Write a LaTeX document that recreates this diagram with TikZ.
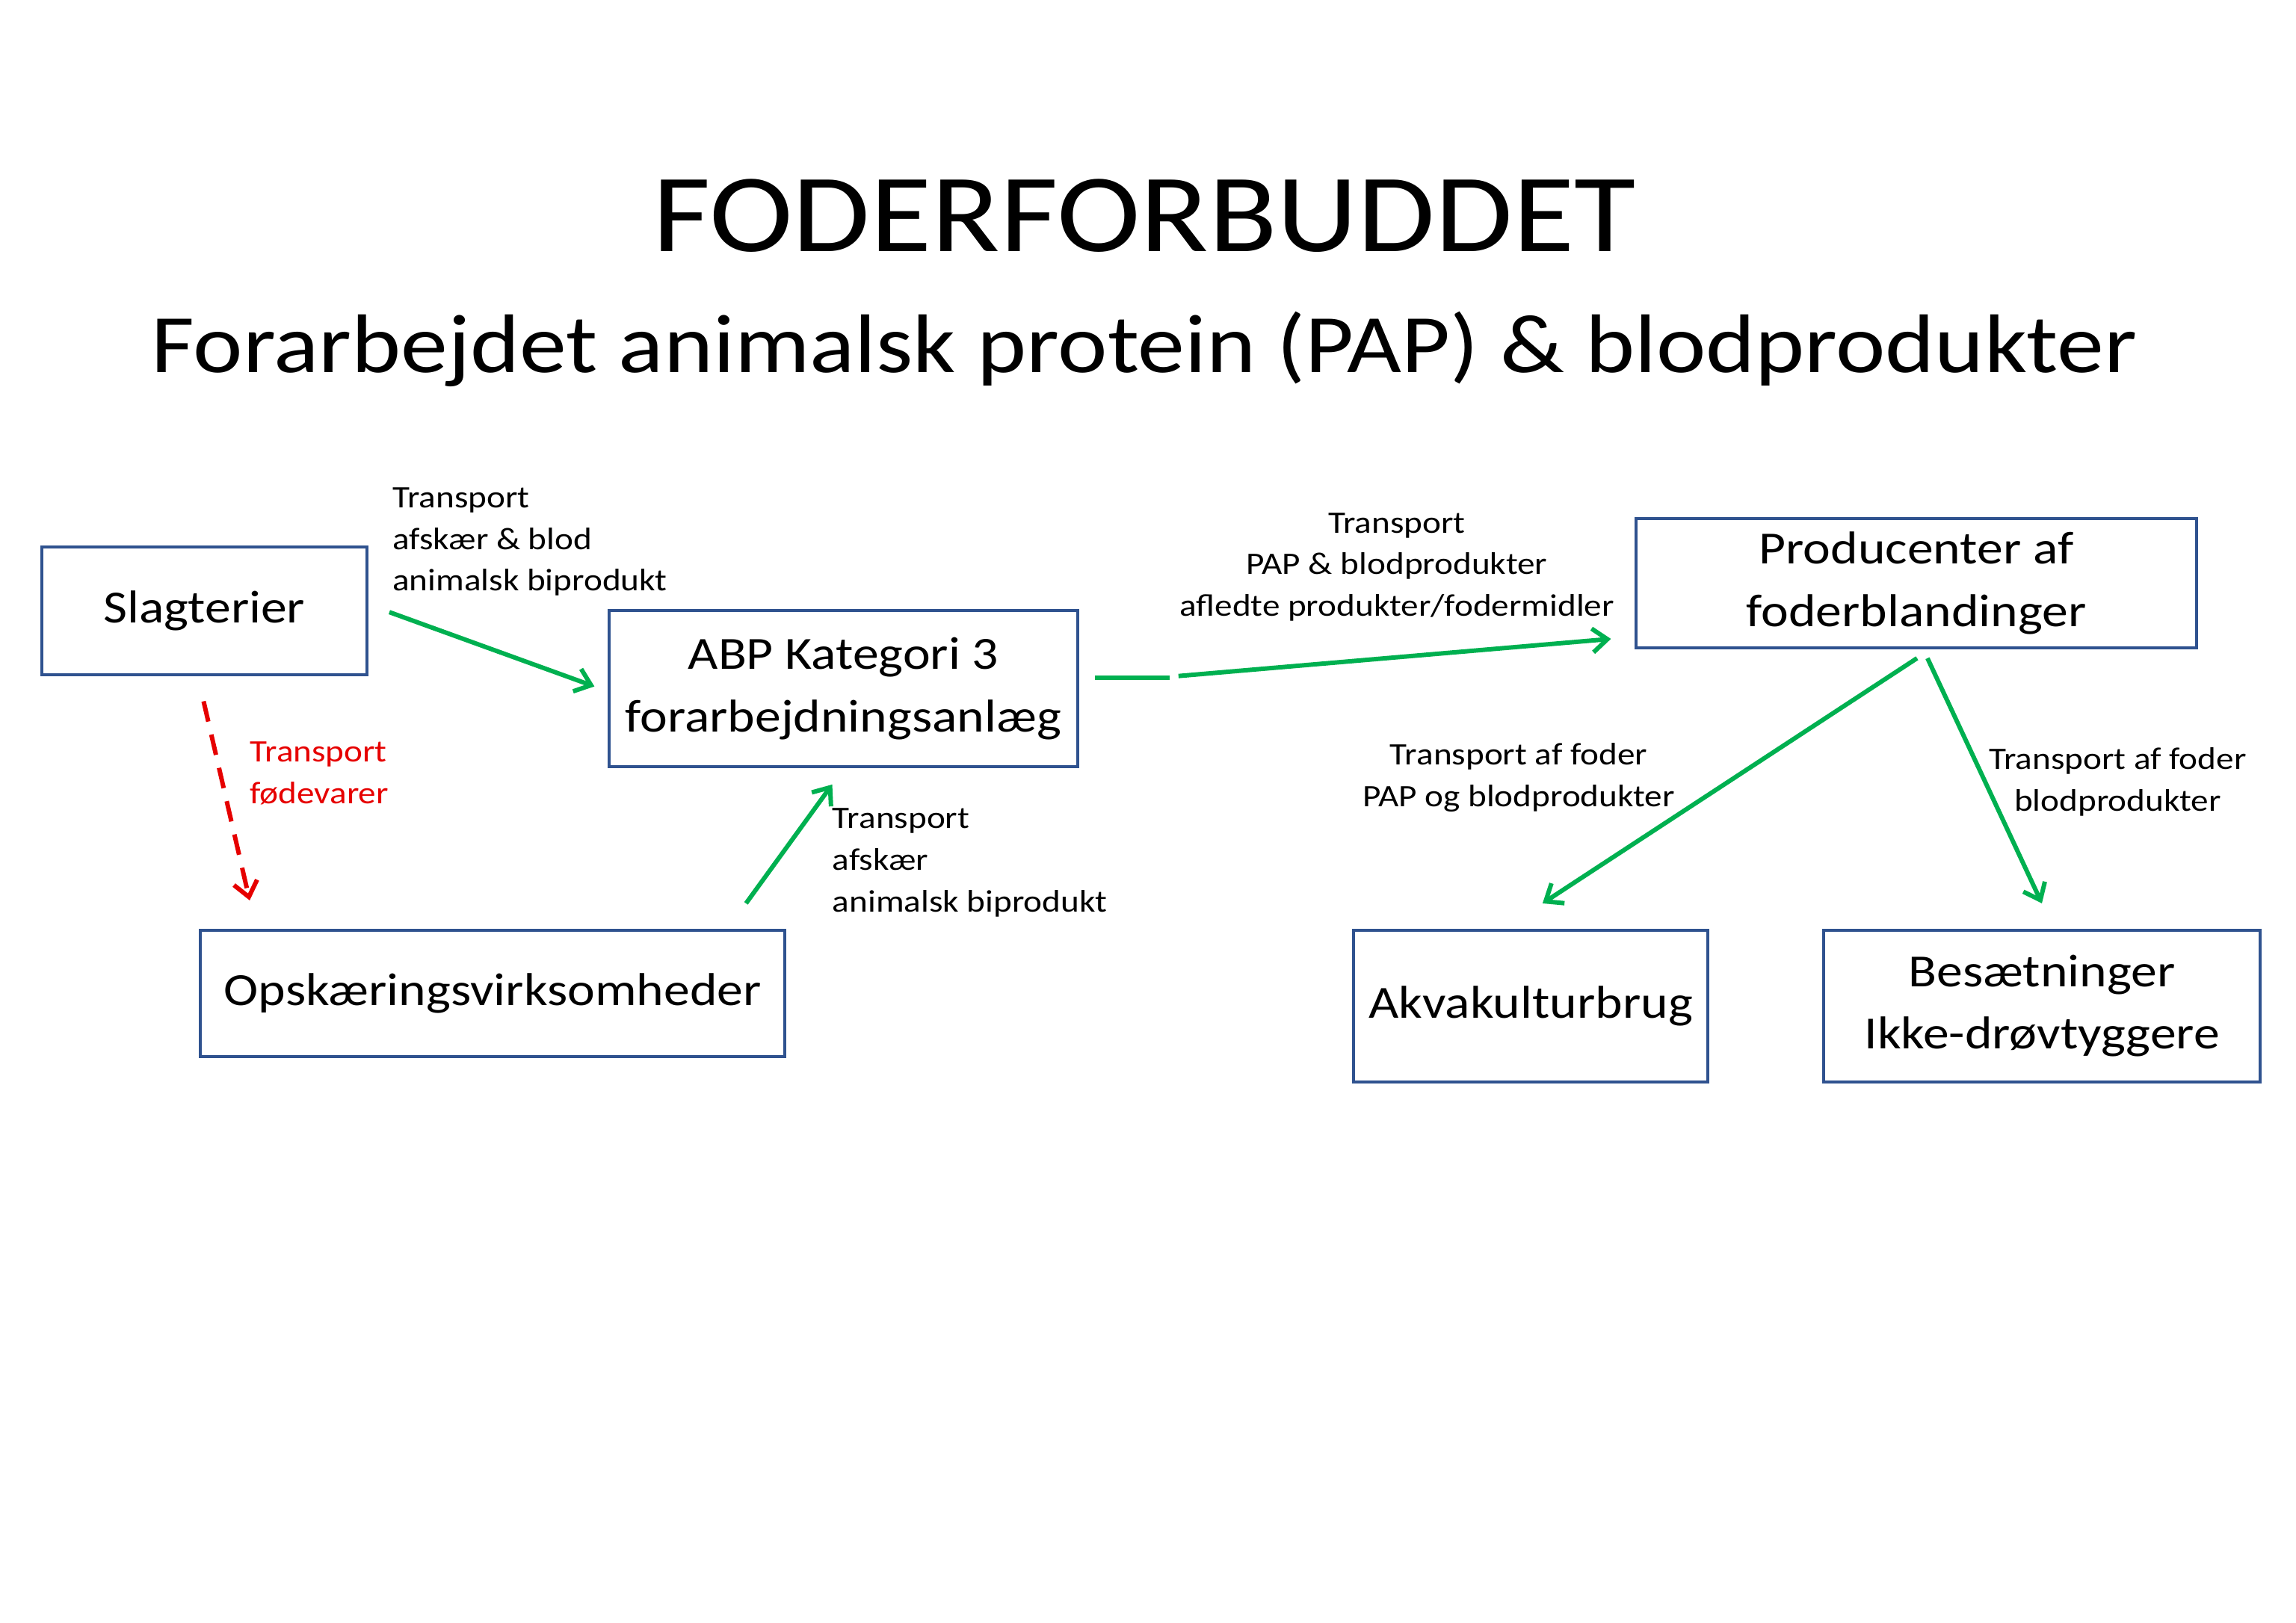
\documentclass[tikz,border=0pt]{standalone}
\usepackage{fontspec}
\setmainfont{Carlito}[FakeStretch=1.13]
\usetikzlibrary{arrows.meta}
\definecolor{bx}{RGB}{47,82,143}
\definecolor{gr}{RGB}{0,176,80}
\definecolor{rd}{RGB}{230,0,0}
\begin{document}
\begin{tikzpicture}[x=1pt,y=-1pt,
  box/.style={draw=bx,line width=2pt,inner sep=0,font=\fontsize{31}{42}\selectfont,align=center},
  lbl/.style={font=\fontsize{21}{28}\selectfont,inner sep=0},
  arr/.style={draw=gr,line width=3pt,-{Straight Barb[length=10pt,width=16pt]}}]
\useasboundingbox (0,0) rectangle (1545,1092);
\node[font=\fontsize{75}{90}\selectfont] (t) at (770,145) {FODERFORBUDDET};
\node[font=\fontsize{56}{64}\selectfont] (st) at (770,235) {Forarbejdet animalsk protein (PAP) \& blodprodukter};
\node[box,minimum width=219pt,minimum height=86pt] (sl) at (137.5,411) {Slagterier};
\node[box,minimum width=315pt,minimum height=105pt] (abp) at (567.5,463.5) {ABP Kategori 3\\forarbejdningsanlæg};
\node[box,minimum width=393pt,minimum height=85pt] (op) at (331.5,668.5) {Opskæringsvirksomheder};
\node[box,minimum width=377pt,minimum height=87pt] (pr) at (1289.5,392.5) {Producenter af\\foderblandinger};
\node[box,minimum width=238pt,minimum height=102pt] (ak) at (1030,677) {Akvakulturbrug};
\node[box,minimum width=294pt,minimum height=102pt] (be) at (1374,677) {Besætninger\\Ikke-drøvtyggere};
\coordinate (a1) at (262,412); \coordinate (a2) at (400,462);
\coordinate (b1) at (502,608); \coordinate (b2) at (560,528);
\coordinate (c0) at (737,456); \coordinate (c1) at (787,456);
\coordinate (c2) at (793,455); \coordinate (c3) at (1084,430);
\coordinate (d1) at (1290,443); \coordinate (d2) at (1038,608);
\coordinate (e1) at (1297,443); \coordinate (e2) at (1374,608);
\coordinate (r1) at (137,472); \coordinate (r2) at (168,606);
\draw[arr] (a1) -- (a2);
\draw[arr] (b1) -- (b2);
\draw[draw=gr,line width=3pt] (c0) -- (c1);
\draw[arr] (c2) -- (c3);
\draw[arr] (d1) -- (d2);
\draw[arr] (e1) -- (e2);
\draw[draw=rd,line width=3pt,dash pattern=on 14pt off 9pt,-{Straight Barb[length=10pt,width=16pt]}] (r1) -- (r2);
\node[lbl,align=left,anchor=north west] (l1) at (264,328) {Transport\\afskær \& blod\\animalsk biprodukt};
\node[lbl,align=left,anchor=north west,text=rd] (l2) at (168,499) {Transport\\fødevarer};
\node[lbl,align=left,anchor=north west] (l3) at (560,544) {Transport\\afskær\\animalsk biprodukt};
\node[lbl,align=center,anchor=north] (l4) at (940,345) {Transport\\PAP \& blodprodukter\\afledte produkter/fodermidler};
\node[lbl,align=center,anchor=north] (l5) at (1022,500) {Transport af foder\\PAP og blodprodukter};
\node[lbl,align=center,anchor=north] (l6) at (1425,503) {Transport af foder\\blodprodukter};
\end{tikzpicture}
\end{document}
